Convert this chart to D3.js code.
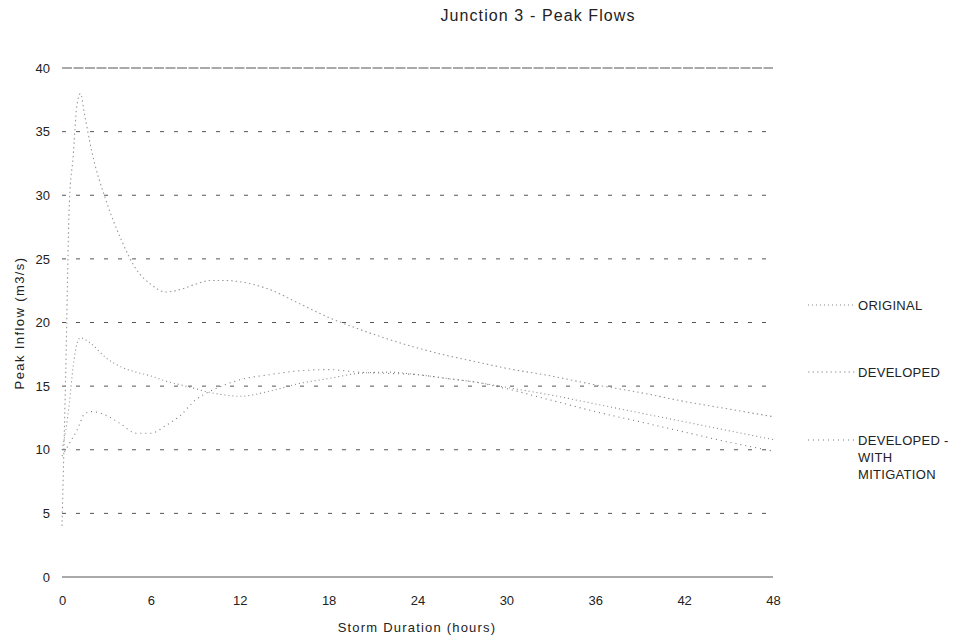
<!DOCTYPE html>
<html><head><meta charset="utf-8">
<script src="https://cdn.jsdelivr.net/npm/d3@7"></script>
<style>body{margin:0;background:#fff;} text{font-family:"Liberation Sans",Arial,sans-serif;fill:#222;}</style>
</head><body>
<svg id="c" width="962" height="637"></svg>
<script>
const durations = [0,0.25,0.5,0.75,1,1.25,1.5,2,3,4,5,6,7,8,9,10,11,12,14,16,18,20,22,24,26,28,30,33,36,39,42,45,48];
const original = [10,11.5,13.7,16.5,18.3,18.8,18.7,18.3,17.2,16.5,16.1,15.8,15.4,15.1,14.8,14.5,14.3,14.2,14.6,15.2,15.6,16,16.1,15.9,15.6,15.3,14.9,14.3,13.6,12.9,12.2,11.5,10.8];
const developed = [4,16,29.5,33,37,38,36.5,33.5,29.5,26.5,24.2,23,22.4,22.6,23,23.3,23.3,23.2,22.6,21.5,20.4,19.5,18.7,18,17.4,16.9,16.4,15.8,15.1,14.5,13.8,13.2,12.6];
const mitigation = [9.5,10,10.5,11,11.5,12.2,12.8,13,12.7,12,11.3,11.3,11.9,12.7,13.9,14.6,15.1,15.5,15.9,16.2,16.3,16.1,16,15.9,15.6,15.3,14.8,13.9,13,12.2,11.4,10.6,9.9];
const seriesNames = ["ORIGINAL","DEVELOPED","DEVELOPED - WITH MITIGATION"];
const xTicks = [0,6,12,18,24,30,36,42,48];
const yTicks = [0,5,10,15,20,25,30,35,40];

const svg = d3.select("#c");
const x = d3.scaleLinear().domain([0,48]).range([62,773]);
const y = d3.scaleLinear().domain([0,40]).range([577,68]);

// gridlines
yTicks.forEach(v=>{
  const solid = (v===0||v===40);
  svg.append("line").attr("x1",x(0)).attr("x2",x(48)).attr("y1",y(v)).attr("y2",y(v))
    .attr("stroke","#555").attr("stroke-width",1)
    .attr("stroke-dasharray", solid? (v===40?"10,1.5":null) : "4,10");
});

// axes text
const yAxis = d3.axisLeft(y).tickValues(yTicks).tickSize(0).tickPadding(12);
svg.append("g").attr("transform",`translate(${x(0)},0)`).call(yAxis)
  .call(g=>g.select(".domain").remove())
  .call(g=>g.selectAll("text").style("font-size","13px").attr("fill","#222"));
const xAxis = d3.axisBottom(x).tickValues(xTicks).tickSize(0).tickPadding(19);
svg.append("g").attr("transform",`translate(0,${y(0)})`).call(xAxis)
  .call(g=>g.select(".domain").remove())
  .call(g=>g.selectAll("text").style("font-size","13px").attr("fill","#222"));

svg.append("text").attr("x",538).attr("y",21).attr("text-anchor","middle").style("font-size","16px").style("letter-spacing","1.1px").text("Junction 3 - Peak Flows");
svg.append("text").attr("x",417).attr("y",632).attr("text-anchor","middle").style("font-size","13px").style("letter-spacing","1.2px").text("Storm Duration (hours)");
svg.append("text").attr("transform","translate(24,323) rotate(-90)").attr("text-anchor","middle").style("font-size","13px").style("letter-spacing","1.4px").text("Peak Inflow (m3/s)");

const styles = [
  {data:original, dash:"1,3", color:"#888"},
  {data:developed, dash:"1.5,3", color:"#999"},
  {data:mitigation, dash:"1,4", color:"#777"}
];
const line = d3.line().x(d=>x(d[0])).y(d=>y(d[1])).curve(d3.curveMonotoneX);
styles.forEach(s=>{
  svg.append("path").datum(durations.map((t,i)=>[t,s.data[i]]))
    .attr("d",line).attr("fill","none").attr("stroke",s.color).attr("stroke-width",1.1)
    .attr("stroke-dasharray",s.dash);
});

// legend
const legY = [305,372,440];
seriesNames.forEach((n,i)=>{
  svg.append("line").attr("x1",808).attr("x2",855).attr("y1",legY[i]).attr("y2",legY[i])
    .attr("stroke",styles[i].color).attr("stroke-width",1.1).attr("stroke-dasharray",styles[i].dash);
  const t = svg.append("text").attr("x",858).attr("y",legY[i]+5).style("font-size","13px").style("letter-spacing","0.3px");
  const lines = i===2 ? ["DEVELOPED -","WITH","MITIGATION"] : [n];
  lines.forEach((l,j)=>t.append("tspan").attr("x",858).attr("dy", j===0?0:17).text(l));
});
</script>
</body></html>
